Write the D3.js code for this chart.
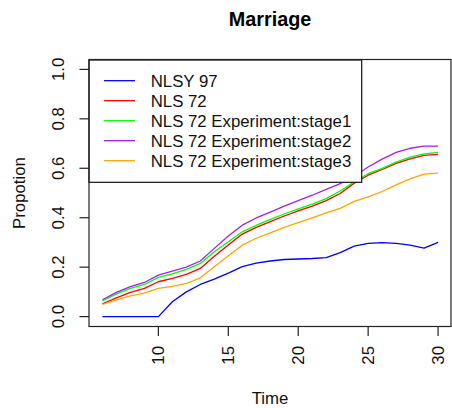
<!DOCTYPE html>
<html>
<head>
<meta charset="utf-8">
<script src="https://cdn.jsdelivr.net/npm/d3@7"></script>
<style>
  html, body { margin: 0; padding: 0; background: #fff; }
  svg { display: block; font-family: "Liberation Sans", Arial, Helvetica, sans-serif; }
</style>
</head>
<body>
<svg id="chart" width="452" height="408"></svg>
<script>
// Proportion married by age (time), one series per sample
const times = d3.range(6, 31);

const nlsy97 = [0, 0, 0, 0, 0, 0.06, 0.10, 0.13, 0.152, 0.176,
  0.202, 0.216, 0.225, 0.231, 0.233, 0.235, 0.239, 0.259, 0.285, 0.296,
  0.299, 0.296, 0.289, 0.277, 0.300];
const nls72 = [0.052, 0.076, 0.098, 0.114, 0.141, 0.155, 0.171, 0.195, 0.244, 0.290,
  0.334, 0.361, 0.384, 0.407, 0.428, 0.447, 0.469, 0.498, 0.540, 0.572,
  0.595, 0.620, 0.638, 0.652, 0.656];
const stage1 = [0.063, 0.092, 0.114, 0.130, 0.159, 0.173, 0.191, 0.215, 0.262, 0.303,
  0.343, 0.369, 0.393, 0.415, 0.436, 0.455, 0.477, 0.508, 0.545, 0.578,
  0.600, 0.625, 0.645, 0.658, 0.664];
const stage2 = [0.068, 0.098, 0.121, 0.138, 0.168, 0.184, 0.200, 0.225, 0.276, 0.326,
  0.370, 0.399, 0.423, 0.447, 0.469, 0.491, 0.515, 0.538, 0.568, 0.605,
  0.637, 0.664, 0.681, 0.690, 0.690];
const stage3 = [0.049, 0.068, 0.084, 0.095, 0.114, 0.122, 0.134, 0.157, 0.202, 0.246,
  0.289, 0.317, 0.339, 0.361, 0.380, 0.399, 0.420, 0.438, 0.466, 0.484,
  0.506, 0.533, 0.557, 0.576, 0.580];

const seriesNames = ["NLSY 97", "NLS 72", "NLS 72 Experiment:stage1",
  "NLS 72 Experiment:stage2", "NLS 72 Experiment:stage3"];
const seriesValues = [nlsy97, nls72, stage1, stage2, stage3];
const seriesColors = ["#0000ff", "#ff0000", "#00ff00", "#a020f0", "#ffa500"];

const xTicks = [10, 15, 20, 25, 30];
const yTicks = [0, 0.2, 0.4, 0.6, 0.8, 1.0];

const svg = d3.select("#chart");
const plotL = 89, plotR = 451.5, plotT = 59.5, plotB = 326.5;
const fs = 16.8;

const x = d3.scaleLinear().domain([5.04, 30.96]).range([plotL, plotR]);
const y = d3.scaleLinear().domain([-0.04, 1.04]).range([plotB, plotT]);

// series lines
const line = d3.line().x((d, i) => x(times[i])).y(d => y(d));
svg.append("g").selectAll("path")
  .data(seriesValues)
  .join("path")
  .attr("d", d => line(d))
  .attr("fill", "none")
  .attr("stroke", (d, i) => seriesColors[i])
  .attr("stroke-width", 1.3)
  .attr("stroke-linejoin", "round");

// x axis ticks and rotated labels
const gx = svg.append("g");
gx.selectAll("line").data(xTicks).join("line")
  .attr("x1", d => x(d)).attr("x2", d => x(d))
  .attr("y1", plotB).attr("y2", plotB + 9.5)
  .attr("stroke", "#222").attr("stroke-width", 1.2);
gx.selectAll("text").data(xTicks).join("text")
  .attr("transform", d => `translate(${x(d)},346) rotate(-90)`)
  .attr("text-anchor", "end")
  .attr("dy", "0.35em")
  .attr("font-size", fs)
  .attr("fill", "#111")
  .text(d => d);

// y axis ticks and labels
const gy = svg.append("g");
gy.selectAll("line").data(yTicks).join("line")
  .attr("x1", plotL).attr("x2", plotL - 9.5)
  .attr("y1", d => y(d)).attr("y2", d => y(d))
  .attr("stroke", "#222").attr("stroke-width", 1.2);
gy.selectAll("text").data(yTicks).join("text")
  .attr("transform", d => `translate(63.5,${y(d)}) rotate(-90)`)
  .attr("text-anchor", "middle")
  .attr("font-size", fs)
  .attr("fill", "#111")
  .text(d => d3.format(".1f")(d));

// legend
const lg = svg.append("g");
lg.append("rect")
  .attr("x", plotL).attr("y", 60)
  .attr("width", 361.7 - plotL).attr("height", 182.3 - 60)
  .attr("fill", "#fff").attr("stroke", "#111").attr("stroke-width", 1.2);
const rows = lg.selectAll("g.row").data(seriesNames).join("g")
  .attr("class", "row")
  .attr("transform", (d, i) => `translate(0,${80.7 + i * 20})`);
rows.append("line")
  .attr("x1", 104).attr("x2", 135).attr("y1", 0).attr("y2", 0)
  .attr("stroke", (d, i) => seriesColors[i]).attr("stroke-width", 1.3);
rows.append("text")
  .attr("x", 150.7).attr("y", 6)
  .attr("font-size", fs).attr("fill", "#111")
  .text(d => d);

// plot frame
svg.append("rect")
  .attr("x", plotL).attr("y", plotT)
  .attr("width", 451 - plotL).attr("height", plotB - plotT)
  .attr("fill", "none").attr("stroke", "#222").attr("stroke-width", 1.2);

// titles
svg.append("text")
  .attr("x", (plotL + 451) / 2).attr("y", 26)
  .attr("text-anchor", "middle")
  .attr("font-size", 19.8).attr("font-weight", "bold").attr("fill", "#000")
  .text("Marriage");
svg.append("text")
  .attr("x", (plotL + 451) / 2).attr("y", 404)
  .attr("text-anchor", "middle")
  .attr("font-size", fs).attr("fill", "#111")
  .text("Time");
svg.append("text")
  .attr("transform", `translate(24.5,${(plotT + plotB) / 2}) rotate(-90)`)
  .attr("text-anchor", "middle")
  .attr("font-size", fs).attr("fill", "#111")
  .text("Propotion");
</script>
</body>
</html>
